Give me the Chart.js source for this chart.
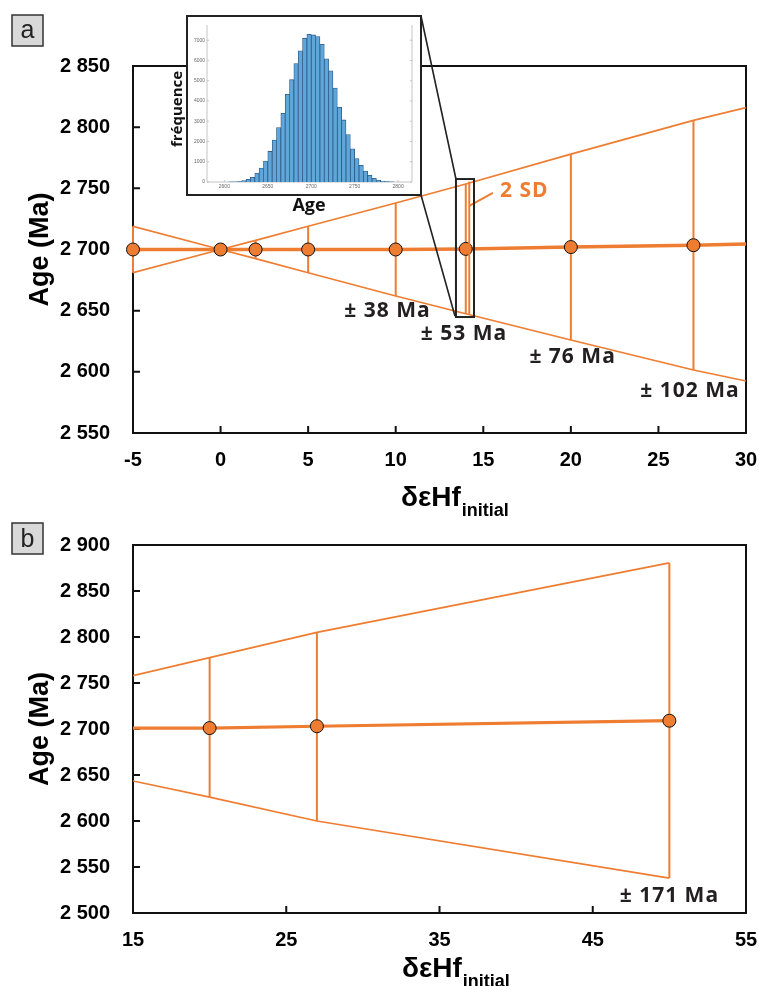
<!DOCTYPE html>
<html><head><meta charset="utf-8">
<script src="https://cdn.jsdelivr.net/npm/chart.js@4.4.1/dist/chart.umd.min.js"></script>
<style>
html,body{margin:0;padding:0;background:#fff;}
#wrap{position:relative;width:759px;height:986px;overflow:hidden;background:#fff;}
#ca{position:absolute;left:0;top:0;}
#cb{position:absolute;left:0;top:493px;}
#inset{position:absolute;left:186px;top:15px;width:236px;height:181px;border:2px solid #222;box-sizing:border-box;background:#fff;}
#ch{position:absolute;left:0;top:0;}
</style></head><body>
<div id="wrap">
<canvas id="cb" width="759" height="493"></canvas>
<canvas id="ca" width="759" height="540"></canvas>
<div id="inset"><canvas id="ch" width="232" height="177"></canvas></div>
</div>
<script>
// ---------- Panel a data ----------
const xA = [-5, 0, 2, 5, 10, 14, 20, 27];
const ageA = [2700, 2700, 2700, 2700, 2700, 2700.5, 2702, 2703.5];
const errA = [19, 0, 7.5, 19, 38, 53, 76, 102];
const xEndA = 30;
const ageEndA = 2704.5;
const risingEndA = 2816;
const fallingEndA = 2592.5;
const xTicksA = [-5, 0, 5, 10, 15, 20, 25, 30];
const yTicksA = [2550, 2600, 2650, 2700, 2750, 2800, 2850];
const notesA = ['± 38 Ma', '± 53 Ma', '± 76 Ma', '± 102 Ma'];
const sdLabel = '2 SD';

// ---------- Panel b data ----------
const xB = [20, 27, 50];
const ageB = [2701, 2703, 2709];
const upperB = [2777.5, 2805, 2880.5];
const lowerB = [2626, 2600, 2538];
const xStartB = 15;
const ageStartB = 2701;
const upperStartB = 2758;
const lowerStartB = 2643.5;
const xTicksB = [15, 25, 35, 45, 55];
const yTicksB = [2500, 2550, 2600, 2650, 2700, 2750, 2800, 2850, 2900];
const notesB = ['± 171 Ma'];

// ---------- Inset histogram data ----------
const histBins = [2607.5, 2612.5, 2617.5, 2622.5, 2627.5, 2632.5, 2637.5, 2642.5, 2647.5, 2652.5,
  2657.5, 2662.5, 2667.5, 2672.5, 2677.5, 2682.5, 2687.5, 2692.5, 2697.5, 2702.5,
  2707.5, 2712.5, 2717.5, 2722.5, 2727.5, 2732.5, 2737.5, 2742.5, 2747.5, 2752.5,
  2757.5, 2762.5, 2767.5, 2772.5, 2777.5, 2782.5, 2787.5, 2792.5];
const histCounts = [8, 12, 20, 65, 130, 230, 440, 690, 1030, 1510,
  2070, 2690, 3390, 4330, 5050, 5850, 6475, 7100, 7295, 7260,
  7180, 6800, 6080, 5490, 4640, 3690, 3065, 2340, 1640, 1160,
  820, 540, 330, 180, 100, 50, 15, 5];
const histTicksX = [2600, 2650, 2700, 2750, 2800];
const histTicksY = [0, 1000, 2000, 3000, 4000, 5000, 6000, 7000];

// ---------- styles ----------
const ORANGE = '#EE7D31';
const INK = '#111';
const NOTE_FONT = '700 21px "Open Sans"';
const NOTE_SPACING = '1px';
Chart.defaults.font.family = '"Liberation Sans", Arial, sans-serif';

const fmtAge = v => String(v).replace(/^(\d)(\d{3})$/, '$1 $2');

function mainPlugin(){
  return {
    id: 'decor',
    beforeDatasetsDraw(chart, args, o) {
      const {ctx, chartArea: a, scales: {x, y}} = chart;
      ctx.save();
      ctx.strokeStyle = INK; ctx.lineWidth = 2;
      ctx.strokeRect(a.left, a.top, a.right - a.left, a.bottom - a.top);
      ctx.beginPath();
      x.ticks.forEach(t => { if (t.value > x.min && t.value < x.max) { const p = x.getPixelForValue(t.value); ctx.moveTo(p, a.bottom); ctx.lineTo(p, a.bottom - 7); } });
      y.ticks.forEach(t => { if (t.value > y.min && t.value < y.max) { const p = y.getPixelForValue(t.value); ctx.moveTo(a.left, p); ctx.lineTo(a.left + 7, p); } });
      ctx.stroke();
      ctx.restore();
    },
    afterDraw(chart, args, o) {
      const {ctx, chartArea: a, scales: {x, y}} = chart;
      ctx.save();
      // panel letter
      ctx.fillStyle = '#d9d9d9'; ctx.strokeStyle = '#333'; ctx.lineWidth = 1.5;
      ctx.fillRect(o.box[0], o.box[1], 31, 31); ctx.strokeRect(o.box[0], o.box[1], 31, 31);
      ctx.fillStyle = '#222'; ctx.font = '25px "Liberation Sans"'; ctx.textAlign = 'center'; ctx.textBaseline = 'alphabetic';
      ctx.fillText(o.letter, o.box[0] + 15.5, o.box[1] + o.letterBase);
      // x title with subscript
      ctx.fillStyle = '#000'; ctx.textAlign = 'left';
      ctx.font = 'bold 28px "Liberation Sans"';
      const tx = a.left + o.titleDX, ty = a.bottom + o.titleDY;
      ctx.fillText('δεHf', tx, ty);
      const w = ctx.measureText('δεHf').width;
      ctx.font = 'bold 18px "Liberation Sans"';
      ctx.fillText('initial', tx + w + 1, ty + 10);
      // notes
      ctx.font = NOTE_FONT; ctx.letterSpacing = NOTE_SPACING;
      ctx.fillStyle = '#231F20'; ctx.textBaseline = 'middle'; ctx.textAlign = 'center';
      o.notes.forEach(n => ctx.fillText(n.text, x.getPixelForValue(n.x), y.getPixelForValue(n.y)));
      ctx.letterSpacing = '0px';
      if (o.extra) o.extra(chart, ctx, a, x, y);
      ctx.restore();
    }
  };
}

// ---------- Panel a ----------
const pointsA = xA.map((v, i) => ({x: v, y: ageA[i]}));
const centerLineA = pointsA.concat([{x: xEndA, y: ageEndA}]);
const risingA = xA.map((v, i) => ({x: v, y: v < 0 ? ageA[i] - errA[i] : ageA[i] + errA[i]})).concat([{x: xEndA, y: risingEndA}]);
const fallingA = xA.map((v, i) => ({x: v, y: v < 0 ? ageA[i] + errA[i] : ageA[i] - errA[i]})).concat([{x: xEndA, y: fallingEndA}]);
const barsA = xA.map((v, i) => errA[i] > 0 ? {
  data: [{x: v, y: ageA[i] - errA[i]}, {x: v, y: ageA[i] + errA[i]}],
  borderColor: ORANGE, borderWidth: 2, pointRadius: 0, order: 2, clip: false
} : null).filter(Boolean);

function extraA(chart, ctx, a, x, y) {
  const rl = x.getPixelForValue(13.44), rr = x.getPixelForValue(14.47);
  const rt = y.getPixelForValue(2757.6), rb = y.getPixelForValue(2644.8);
  ctx.strokeStyle = ORANGE; ctx.lineWidth = 2;
  ctx.beginPath();
  ctx.moveTo(x.getPixelForValue(14.2), y.getPixelForValue(2755.5));
  ctx.lineTo(x.getPixelForValue(14.2), y.getPixelForValue(2647.3));
  ctx.stroke();
  ctx.beginPath();
  ctx.moveTo(x.getPixelForValue(14.2), y.getPixelForValue(2735.6));
  ctx.lineTo(x.getPixelForValue(15.55), y.getPixelForValue(2746.2));
  ctx.stroke();
  ctx.strokeStyle = '#222'; ctx.lineWidth = 2;
  ctx.strokeRect(rl, rt, rr - rl, rb - rt);
  ctx.lineWidth = 1.6;
  ctx.beginPath();
  ctx.moveTo(421, 16); ctx.lineTo(rl, rt);
  ctx.moveTo(421, 195); ctx.lineTo(rl - 1, rb - 1);
  ctx.stroke();
  ctx.fillStyle = ORANGE; ctx.font = NOTE_FONT; ctx.letterSpacing = NOTE_SPACING;
  ctx.textAlign = 'left'; ctx.textBaseline = 'middle';
  ctx.fillText(sdLabel, x.getPixelForValue(15.95), y.getPixelForValue(2747.4));
  ctx.letterSpacing = '0px';
  ctx.fillStyle = '#111';
  ctx.font = '700 18px "Open Sans"'; ctx.textAlign = 'center';
  ctx.fillText('Age', 309, 206);
  ctx.save();
  ctx.translate(178, 109); ctx.rotate(-Math.PI / 2);
  ctx.font = '700 15px "Open Sans"';
  ctx.fillText('fréquence', 0, 0);
  ctx.restore();
}

function fixX(h) { return s => { s.height = h; s.paddingLeft = 0; s.paddingRight = 0; }; }
function fixY(w) { return s => { s.width = w; s.paddingTop = 0; s.paddingBottom = 0; }; }

new Chart(document.getElementById('ca'), {
  type: 'line',
  data: {datasets: [
    {data: pointsA, showLine: false, pointRadius: 6.5, pointBorderWidth: 1, pointBackgroundColor: ORANGE, pointBorderColor: INK, order: 0, clip: false},
    {data: centerLineA, borderColor: ORANGE, borderWidth: 3.5, pointRadius: 0, order: 1},
    ...barsA,
    {data: risingA, borderColor: ORANGE, borderWidth: 1.7, pointRadius: 0, order: 3},
    {data: fallingA, borderColor: ORANGE, borderWidth: 1.7, pointRadius: 0, order: 3}
  ]},
  options: {
    responsive: false, animation: false, devicePixelRatio: 1, events: [],
    layout: {padding: {left: 0, top: 66, right: 13, bottom: 0}},
    plugins: {legend: {display: false}, tooltip: {enabled: false},
      decor: {box: [12, 15], letter: 'a', letterBase: 23, titleDX: 268, titleDY: 73, extra: extraA,
        notes: [
          {text: notesA[0], x: 9.53, y: 2649.7},
          {text: notesA[1], x: 13.9, y: 2630.9},
          {text: notesA[2], x: 20.1, y: 2612.5},
          {text: notesA[3], x: 26.8, y: 2584.7}
        ]}
    },
    scales: {
      x: {type: 'linear', min: xTicksA[0], max: xTicksA[xTicksA.length - 1],
        afterFit: fixX(107),
        afterBuildTicks(s) { s.ticks = xTicksA.map(v => ({value: v})); },
        ticks: {font: {size: 20, weight: 'bold'}, color: '#000', padding: 15, maxRotation: 0, autoSkip: false},
        grid: {display: false, drawTicks: false}, border: {display: false}},
      y: {min: yTicksA[0], max: yTicksA[yTicksA.length - 1],
        afterFit: fixY(133),
        afterBuildTicks(s) { s.ticks = yTicksA.map(v => ({value: v})); },
        ticks: {font: {size: 20, weight: 'bold'}, color: '#000', padding: 23, callback: fmtAge},
        title: {display: true, text: 'Age (Ma)', font: {size: 27, weight: 'bold'}, color: '#000', padding: {top: 24, bottom: 0}},
        grid: {display: false, drawTicks: false}, border: {display: false}}
    }
  },
  plugins: [mainPlugin()]
});

// ---------- Panel b ----------
const pointsB = xB.map((v, i) => ({x: v, y: ageB[i]}));
const centerLineB = [{x: xStartB, y: ageStartB}].concat(pointsB);
const upperLineB = [{x: xStartB, y: upperStartB}].concat(xB.map((v, i) => ({x: v, y: upperB[i]})));
const lowerLineB = [{x: xStartB, y: lowerStartB}].concat(xB.map((v, i) => ({x: v, y: lowerB[i]})));
const barsB = xB.map((v, i) => ({
  data: [{x: v, y: lowerB[i]}, {x: v, y: upperB[i]}],
  borderColor: ORANGE, borderWidth: 2, pointRadius: 0, order: 2
}));

new Chart(document.getElementById('cb'), {
  type: 'line',
  data: {datasets: [
    {data: pointsB, showLine: false, pointRadius: 6.5, pointBorderWidth: 1, pointBackgroundColor: ORANGE, pointBorderColor: INK, order: 0, clip: false},
    {data: centerLineB, borderColor: ORANGE, borderWidth: 3.2, pointRadius: 0, order: 1},
    ...barsB,
    {data: upperLineB, borderColor: ORANGE, borderWidth: 1.7, pointRadius: 0, order: 3},
    {data: lowerLineB, borderColor: ORANGE, borderWidth: 1.7, pointRadius: 0, order: 3}
  ]},
  options: {
    responsive: false, animation: false, devicePixelRatio: 1, events: [],
    layout: {padding: {left: 0, top: 52, right: 13, bottom: 0}},
    plugins: {legend: {display: false}, tooltip: {enabled: false},
      decor: {box: [12, 30], letter: 'b', letterBase: 24, titleDX: 269, titleDY: 64,
        notes: [{text: notesB[0], x: 50, y: 2519}]}
    },
    scales: {
      x: {type: 'linear', min: xTicksB[0], max: xTicksB[xTicksB.length - 1],
        afterFit: fixX(73),
        afterBuildTicks(s) { s.ticks = xTicksB.map(v => ({value: v})); },
        ticks: {font: {size: 20, weight: 'bold'}, color: '#000', padding: 15, maxRotation: 0, autoSkip: false},
        grid: {display: false, drawTicks: false}, border: {display: false}},
      y: {min: yTicksB[0], max: yTicksB[yTicksB.length - 1],
        afterFit: fixY(133),
        afterBuildTicks(s) { s.ticks = yTicksB.map(v => ({value: v})); },
        ticks: {font: {size: 20, weight: 'bold'}, color: '#000', padding: 23, callback: fmtAge},
        title: {display: true, text: 'Age (Ma)', font: {size: 27, weight: 'bold'}, color: '#000', padding: {top: 24, bottom: 0}},
        grid: {display: false, drawTicks: false}, border: {display: false}}
    }
  },
  plugins: [mainPlugin()]
});

// ---------- Inset histogram ----------
const insetFrame = {
  id: 'insetFrame',
  beforeDatasetsDraw(chart) {
    const {ctx, chartArea: a, scales: {x, y}} = chart;
    ctx.save();
    ctx.strokeStyle = '#c4c4c4'; ctx.lineWidth = 1;
    ctx.beginPath();
    ctx.moveTo(a.left, a.top); ctx.lineTo(a.left, a.bottom); ctx.lineTo(a.right, a.bottom); ctx.lineTo(a.right, a.top);
    y.ticks.forEach(t => { const p = y.getPixelForValue(t.value); ctx.moveTo(a.left, p); ctx.lineTo(a.left + 2, p); ctx.moveTo(a.right, p); ctx.lineTo(a.right - 2, p); });
    x.ticks.forEach(t => { const p = x.getPixelForValue(t.value); ctx.moveTo(p, a.bottom); ctx.lineTo(p, a.bottom - 2); });
    ctx.stroke();
    ctx.restore();
  }
};
new Chart(document.getElementById('ch'), {
  type: 'bar',
  data: {datasets: [{
    data: histBins.map((c, i) => ({x: c, y: histCounts[i]})),
    backgroundColor: '#5FA6DA', borderColor: '#2D5A86', borderWidth: 0.8,
    barPercentage: 1, categoryPercentage: 1, grouped: false
  }]},
  options: {
    responsive: false, animation: false, devicePixelRatio: 1, events: [],
    layout: {padding: {left: 0, top: 8, right: 8, bottom: 0}},
    plugins: {legend: {display: false}, tooltip: {enabled: false}},
    scales: {
      x: {type: 'linear', min: 2580, max: 2816, offset: false,
        afterFit: fixX(12),
        afterBuildTicks(s) { s.ticks = histTicksX.map(v => ({value: v})); },
        ticks: {font: {size: 5}, color: '#666', padding: 2, maxRotation: 0, autoSkip: false, callback: v => String(v)},
        grid: {display: false, drawTicks: false}, border: {display: false}},
      y: {min: 0, max: 7750,
        afterFit: fixY(19),
        afterBuildTicks(s) { s.ticks = histTicksY.map(v => ({value: v})); },
        ticks: {font: {size: 5}, color: '#666', padding: 2, callback: v => String(v)},
        grid: {display: false, drawTicks: false}, border: {display: false}}
    }
  },
  plugins: [insetFrame]
});
</script></body></html>
